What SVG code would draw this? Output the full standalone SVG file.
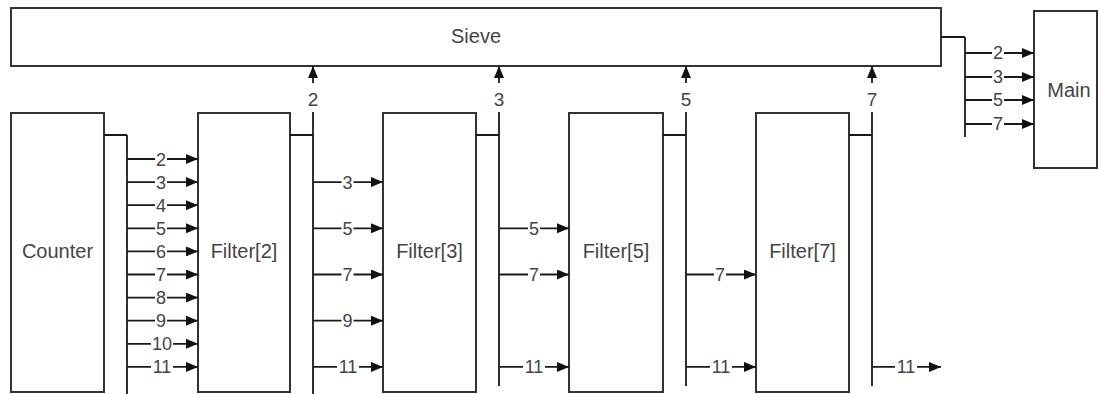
<svg xmlns="http://www.w3.org/2000/svg" width="1098" height="394" viewBox="0 0 1098 394">
<style>
.box{fill:#fff;stroke:#333;stroke-width:2}
.t{font-family:"Liberation Sans",Arial,sans-serif;font-size:20px;fill:#444;text-anchor:middle}
.l{font-family:"Liberation Sans",Arial,sans-serif;font-size:18px;fill:#444;text-anchor:middle}
.w{fill:none;stroke:#1a1a1a;stroke-width:1.8}
</style>
<defs>
<marker id="ah" viewBox="0 0 12 10" refX="12" refY="5" markerWidth="12" markerHeight="10" markerUnits="userSpaceOnUse" orient="auto">
<path d="M0,0 L12,5 L0,10 z" fill="#111"/>
</marker>
</defs>
<g id="sieve"><rect class="box" x="11" y="8" width="930" height="58"/><text class="t" x="476" y="43">Sieve</text></g>
<g id="main"><rect class="box" x="1034" y="11" width="63" height="157"/><text class="t" x="1069" y="97">Main</text></g>
<g id="counter"><rect class="box" x="11" y="113" width="93" height="279"/><text class="t" x="57.5" y="258">Counter</text></g>
<g id="filter2"><rect class="box" x="198" y="113" width="92" height="279"/><text class="t" x="244" y="258">Filter[2]</text></g>
<g id="filter3"><rect class="box" x="383" y="113" width="93" height="279"/><text class="t" x="429.5" y="258">Filter[3]</text></g>
<g id="filter5"><rect class="box" x="569" y="113" width="94" height="279"/><text class="t" x="616" y="258">Filter[5]</text></g>
<g id="filter7"><rect class="box" x="756" y="113" width="93" height="279"/><text class="t" x="802.5" y="258">Filter[7]</text></g>
<g id="connectors">
<!-- Sieve to Main -->
<path class="w" d="M941,37 H965 M965,37 V137"/>
<path class="w" d="M965,53 H992 M1004,53 H1034" marker-end="url(#ah)"/>
<path class="w" d="M965,77 H992 M1004,77 H1034" marker-end="url(#ah)"/>
<path class="w" d="M965,100 H992 M1004,100 H1034" marker-end="url(#ah)"/>
<path class="w" d="M965,124 H992 M1004,124 H1034" marker-end="url(#ah)"/>
<text class="l" x="998" y="59">2</text>
<text class="l" x="998" y="83">3</text>
<text class="l" x="998" y="106">5</text>
<text class="l" x="998" y="130">7</text>
<!-- Counter out -->
<path class="w" d="M104,135 H127 M127,135 V394"/>
<path class="w" d="M127,159 H155 M167,159 H198" marker-end="url(#ah)"/>
<path class="w" d="M127,182.1 H155 M167,182.1 H198" marker-end="url(#ah)"/>
<path class="w" d="M127,205.2 H155 M167,205.2 H198" marker-end="url(#ah)"/>
<path class="w" d="M127,228.3 H155 M167,228.3 H198" marker-end="url(#ah)"/>
<path class="w" d="M127,251.4 H155 M167,251.4 H198" marker-end="url(#ah)"/>
<path class="w" d="M127,274.5 H155 M167,274.5 H198" marker-end="url(#ah)"/>
<path class="w" d="M127,297.6 H155 M167,297.6 H198" marker-end="url(#ah)"/>
<path class="w" d="M127,320.7 H155 M167,320.7 H198" marker-end="url(#ah)"/>
<path class="w" d="M127,343.8 H151 M173,343.8 H198" marker-end="url(#ah)"/>
<path class="w" d="M127,366.9 H151 M173,366.9 H198" marker-end="url(#ah)"/>
<text class="l" x="161" y="165.5">2</text>
<text class="l" x="161" y="188.6">3</text>
<text class="l" x="161" y="211.7">4</text>
<text class="l" x="161" y="234.8">5</text>
<text class="l" x="161" y="257.9">6</text>
<text class="l" x="161" y="281">7</text>
<text class="l" x="161" y="304.1">8</text>
<text class="l" x="161" y="327.2">9</text>
<text class="l" x="162" y="350.3">10</text>
<text class="l" x="162" y="373.4">11</text>
<!-- Filter[2] out -->
<path class="w" d="M290,135 H313 M313,112 V394"/>
<path class="w" d="M313,83 V66" marker-end="url(#ah)"/>
<text class="l" x="313" y="106" style="font-size:19px">2</text>
<path class="w" d="M313,182.1 H341.5 M353.5,182.1 H383" marker-end="url(#ah)"/>
<path class="w" d="M313,228.3 H341.5 M353.5,228.3 H383" marker-end="url(#ah)"/>
<path class="w" d="M313,274.5 H341.5 M353.5,274.5 H383" marker-end="url(#ah)"/>
<path class="w" d="M313,320.7 H341.5 M353.5,320.7 H383" marker-end="url(#ah)"/>
<path class="w" d="M313,366.9 H337 M359,366.9 H383" marker-end="url(#ah)"/>
<text class="l" x="347.5" y="188.6">3</text>
<text class="l" x="347.5" y="234.8">5</text>
<text class="l" x="347.5" y="281">7</text>
<text class="l" x="347.5" y="327.2">9</text>
<text class="l" x="348" y="373.4">11</text>
<!-- Filter[3] out -->
<path class="w" d="M476,135 H499 M499,112 V386"/>
<path class="w" d="M499,83 V66" marker-end="url(#ah)"/>
<text class="l" x="499" y="106" style="font-size:19px">3</text>
<path class="w" d="M499,228.3 H528 M540,228.3 H569" marker-end="url(#ah)"/>
<path class="w" d="M499,274.5 H528 M540,274.5 H569" marker-end="url(#ah)"/>
<path class="w" d="M499,366.9 H523 M545,366.9 H569" marker-end="url(#ah)"/>
<text class="l" x="534" y="234.8">5</text>
<text class="l" x="534" y="281">7</text>
<text class="l" x="534" y="373.4">11</text>
<!-- Filter[5] out -->
<path class="w" d="M663,135 H686 M686,112 V386"/>
<path class="w" d="M686,83 V66" marker-end="url(#ah)"/>
<text class="l" x="686" y="106" style="font-size:19px">5</text>
<path class="w" d="M686,274.5 H714 M726,274.5 H756" marker-end="url(#ah)"/>
<path class="w" d="M686,366.9 H710 M732,366.9 H756" marker-end="url(#ah)"/>
<text class="l" x="720" y="281">7</text>
<text class="l" x="721" y="373.4">11</text>
<!-- Filter[7] out -->
<path class="w" d="M849,135 H872 M872,112 V386"/>
<path class="w" d="M872,83 V66" marker-end="url(#ah)"/>
<text class="l" x="872" y="106" style="font-size:19px">7</text>
<path class="w" d="M872,366.9 H895 M917,366.9 H941" marker-end="url(#ah)"/>
<text class="l" x="906" y="373.4">11</text>
</g>
</svg>
